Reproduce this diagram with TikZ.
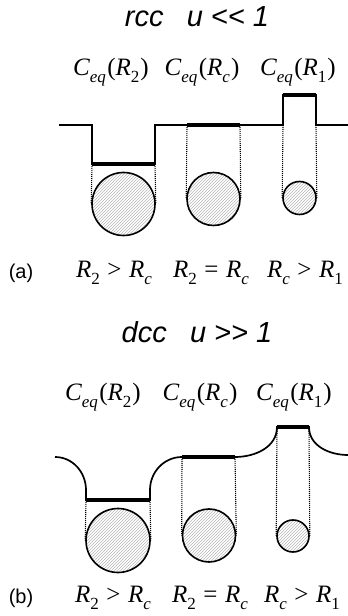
\documentclass[tikz,border=0pt]{standalone}
\usepackage{fontspec}
\setsansfont{Liberation Sans}
\newfontfamily\tms{Liberation Serif}
\usetikzlibrary{patterns}

% lowered index in the label font
\newcommand{\lowix}[1]{\raisebox{-0.3em}{\fontsize{17}{17}\selectfont#1}}
\newcommand{\ceqof}[1]{C\lowix{eq}\kern1.5pt{\upshape(}R\lowix{#1}\kern1pt{\upshape)}}
\newcommand{\rel}{\hspace{0.3em}}

\begin{document}
\begin{tikzpicture}[x=1pt,y=1pt,
  ttl/.style={font=\sffamily\itshape\fontsize{29}{29}\selectfont},
  ceq/.style={font=\tms\itshape\fontsize{25}{25}\selectfont},
  tag/.style={font=\sffamily\fontsize{20}{20}\selectfont},
  prof/.style={line width=1.7pt},
  bar/.style={line width=4.5pt},
  guide/.style={dash pattern=on 1pt off 1pt,line width=1.1pt},
  drop/.style={circle,draw,line width=1.6pt,inner sep=0pt,
    preaction={fill=white},pattern=north east lines,pattern color=gray!55}]

\useasboundingbox (0,0) rectangle (348,616);

% (a) rcc
\node[ttl] (ta) at (197,599) {rcc\hspace{0.8em}u <{}< 1};

\node[ceq] (ca2) at (111,544) {\ceqof{\upshape 2}};
\node[ceq] (cac) at (202,544) {\ceqof{c}};
\node[ceq] (ca1) at (298,544) {\ceqof{\upshape 1}};

\coordinate (a0) at (59,491);
\coordinate (a1) at (92,491);
\coordinate (a2) at (92,452);
\coordinate (a3) at (155,452);
\coordinate (a4) at (155,491);
\coordinate (a5) at (283,491);
\coordinate (a6) at (283,521);
\coordinate (a7) at (316,521);
\coordinate (a8) at (316,491);
\coordinate (a9) at (348,491);
\coordinate (m1) at (187,491);
\coordinate (m2) at (240,491);

\draw[prof] (a0)--(a1)--(a2)--(a3)--(a4)--(a5)--(a6)--(a7)--(a8)--(a9);
\draw[bar] (a2)--(a3);
\draw[bar] (m1)--(m2);
\draw[bar] (a6)--(a7);

\node[drop,minimum size=63pt] (p2) at (123.5,412) {};
\node[drop,minimum size=53pt] (pc) at (213.5,417) {};
\node[drop,minimum size=33pt] (p1) at (299.5,418) {};

\draw[guide] (a2)--(p2.west);
\draw[guide] (a3)--(p2.east);
\draw[guide] (m1)--(pc.west);
\draw[guide] (m2)--(pc.east);
\draw[guide] (a5)--(p1.west);
\draw[guide] (a8)--(p1.east);

\node[tag] (la) at (21,343) {(a)};
\node[ceq] (ra2) at (114,343) {R\lowix{\upshape 2}\rel{\upshape >}\rel R\lowix{c}};
\node[ceq] (rac) at (211,343) {R\lowix{\upshape 2}\rel{\upshape =}\rel R\lowix{c}};
\node[ceq] (ra1) at (305,343) {R\lowix{c}\rel{\upshape >}\rel R\lowix{\upshape 1}};

% (b) dcc
\node[ttl] (tb) at (197,284) {dcc\hspace{0.8em}u >{}> 1};

\node[ceq] (cb2) at (103,219) {\ceqof{\upshape 2}};
\node[ceq] (cbc) at (200,219) {\ceqof{c}};
\node[ceq] (cb1) at (294,219) {\ceqof{\upshape 1}};

\coordinate (b0) at (55,159);
\coordinate (b1) at (86,126);
\coordinate (b2) at (86,116);
\coordinate (b3) at (150,116);
\coordinate (b4) at (150,126);
\coordinate (b5) at (182,159);
\coordinate (b6) at (235,159);
\coordinate (b7) at (277,189);
\coordinate (b8) at (309,189);
\coordinate (b9) at (348,161);

\draw[prof] (b0) to[out=0,in=90] (b1) -- (b2) -- (b3) -- (b4)
  to[out=90,in=180] (b5) -- (b6) to[out=0,in=-90] (b7) -- (b8)
  to[out=-90,in=180] (b9);
\draw[bar] (b2)--(b3);
\draw[bar] (b5)--(b6);
\draw[bar] (b7)--(b8);

\node[drop,minimum size=64pt] (q2) at (118,75.5) {};
\node[drop,minimum size=53pt] (qc) at (209,80.5) {};
\node[drop,minimum size=32pt] (q1) at (293,80) {};

\draw[guide] (b2)--(q2.west);
\draw[guide] (b3)--(q2.east);
\draw[guide] (b5)--(qc.west);
\draw[guide] (b6)--(qc.east);
\draw[guide] (b7)--(q1.west);
\draw[guide] (b8)--(q1.east);

\node[tag] (lb) at (21,18) {(b)};
\node[ceq] (rb2) at (113,18) {R\lowix{\upshape 2}\rel{\upshape >}\rel R\lowix{c}};
\node[ceq] (rbc) at (210,18) {R\lowix{\upshape 2}\rel{\upshape =}\rel R\lowix{c}};
\node[ceq] (rb1) at (302,18) {R\lowix{c}\rel{\upshape >}\rel R\lowix{\upshape 1}};

\end{tikzpicture}
\end{document}
